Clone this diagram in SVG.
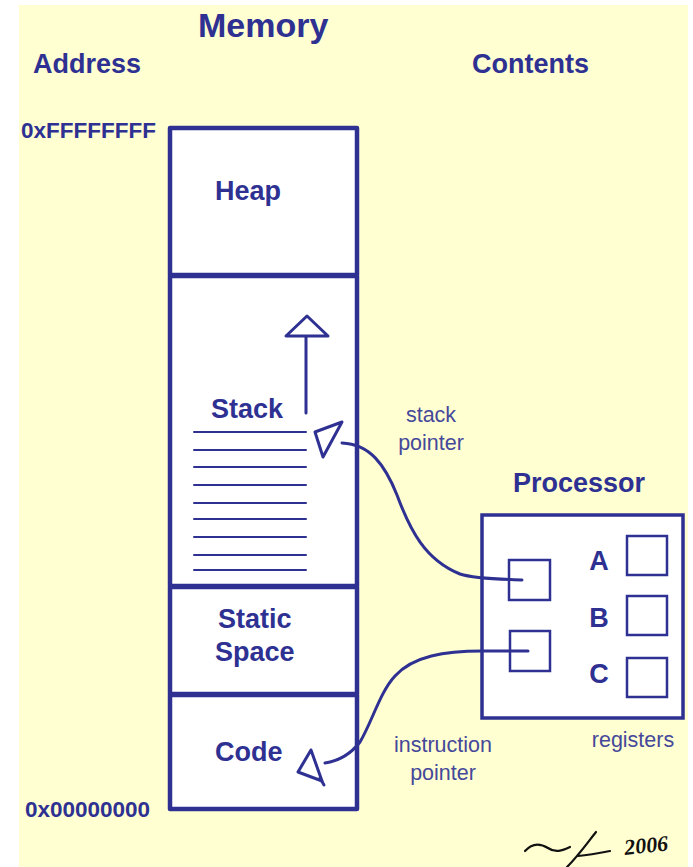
<svg xmlns="http://www.w3.org/2000/svg" width="693" height="867" viewBox="0 0 693 867">
<style>
.bg{fill:#FFFFD2}
.t{font-family:"Liberation Sans",Arial,sans-serif;fill:#2E3192}
.b{font-weight:bold}
.l{fill:#45489A}
.box{fill:#FFFFFF;stroke:#2E3192;stroke-width:4.5;stroke-linejoin:round}
.reg{fill:#FFFFFF;stroke:#2E3192;stroke-width:2.5}
.ln{fill:none;stroke:#2E3192;stroke-width:2;stroke-linecap:round}
.tri{fill:#FFFFFF;stroke:#2E3192;stroke-width:3;stroke-linejoin:round}
.wire{fill:none;stroke:#2E3192;stroke-width:3;stroke-linecap:round}
</style>
<rect x="0" y="0" width="693" height="867" fill="#FFFFFF"/>
<rect class="bg" x="19" y="5" width="669" height="862"/>

<g id="titles">
<text class="t b" x="198" y="37" font-size="34">Memory</text>
<text class="t b" x="33" y="73" font-size="27">Address</text>
<text class="t b" x="472" y="73" font-size="27">Contents</text>
<text class="t b" x="21" y="138" font-size="22.5">0xFFFFFFFF</text>
<text class="t b" x="25" y="817" font-size="22.5">0x00000000</text>
</g>

<g id="heap">
<rect class="box" x="170" y="128" width="187" height="147"/>
<text class="t b" x="215" y="200" font-size="27">Heap</text>
</g>

<g id="stack">
<rect class="box" x="170" y="276" width="187" height="310"/>
<text class="t b" x="211" y="418" font-size="27">Stack</text>
<g class="ln">
<line x1="194" y1="432" x2="306" y2="432"/>
<line x1="194" y1="450" x2="306" y2="450"/>
<line x1="194" y1="467" x2="306" y2="467"/>
<line x1="194" y1="485" x2="306" y2="485"/>
<line x1="194" y1="503" x2="306" y2="503"/>
<line x1="194" y1="519" x2="306" y2="519"/>
<line x1="194" y1="537" x2="306" y2="537"/>
<line x1="194" y1="555" x2="306" y2="555"/>
<line x1="194" y1="570" x2="306" y2="570"/>
</g>
<line x1="306" y1="413" x2="306" y2="337" stroke="#2E3192" stroke-width="3" stroke-linecap="round"/>
<polygon class="tri" points="307,316 286,336 328,336"/>
<polygon class="tri" points="315,432 342,422 323,457"/>
</g>

<g id="static">
<rect class="box" x="170" y="587" width="187" height="107"/>
<text class="t b" x="218" y="628" font-size="27">Static</text>
<text class="t b" x="215" y="661" font-size="27">Space</text>
</g>

<g id="code">
<rect class="box" x="170" y="695" width="187" height="114"/>
<text class="t b" x="215" y="761" font-size="27">Code</text>
<polygon class="tri" points="311,750 298,772 322,781"/>
<line x1="320" y1="778" x2="324" y2="785" stroke="#2E3192" stroke-width="3" stroke-linecap="round"/>
</g>

<g id="processor">
<text class="t b" x="513" y="492" font-size="27">Processor</text>
<rect x="482" y="515" width="201" height="203" fill="#FFFFFF" stroke="#2E3192" stroke-width="3.5"/>
<rect class="reg" x="509" y="560" width="41" height="40"/>
<rect class="reg" x="510" y="631" width="40" height="40"/>
</g>

<g id="registers">
<rect class="reg" x="627" y="536" width="40" height="39"/>
<rect class="reg" x="627" y="596" width="40" height="39"/>
<rect class="reg" x="627" y="658" width="40" height="39"/>
<text class="t b" x="599" y="570" font-size="27" text-anchor="middle">A</text>
<text class="t b" x="599" y="627" font-size="27" text-anchor="middle">B</text>
<text class="t b" x="599" y="683" font-size="27" text-anchor="middle">C</text>
<text class="t l" x="633" y="747" font-size="21.5" text-anchor="middle">registers</text>
</g>

<g id="connectors">
<path class="wire" d="M342,443 C370,444 385,465 397,495 C410,530 425,560 460,574 C475,579 500,579 522,580"/>
<path class="wire" d="M528,651 L482,651 C445,651 413,656 395,676 C380,692 372,722 360,742 C350,755 338,761 325,763"/>
</g>

<g id="labels">
<text class="t l" x="431" y="422" font-size="21.5" text-anchor="middle">stack</text>
<text class="t l" x="431" y="450" font-size="21.5" text-anchor="middle">pointer</text>
<text class="t l" x="443" y="752" font-size="21.5" text-anchor="middle">instruction</text>
<text class="t l" x="443" y="780" font-size="21.5" text-anchor="middle">pointer</text>
</g>

<g id="signature">
<path d="M525,851 C532,843 540,843 548,848 C555,853 562,851 570,847" fill="none" stroke="#111" stroke-width="2.2" stroke-linecap="round"/>
<path d="M596,832 C588,842 578,856 567,867 M578,856 C590,855 600,853 610,851" fill="none" stroke="#111" stroke-width="2.2" stroke-linecap="round"/>
<text x="625" y="855" font-size="22" font-style="italic" font-weight="bold" font-family="'Liberation Serif',serif" fill="#111" transform="rotate(-6 625 855)">2006</text>
</g>
</svg>
